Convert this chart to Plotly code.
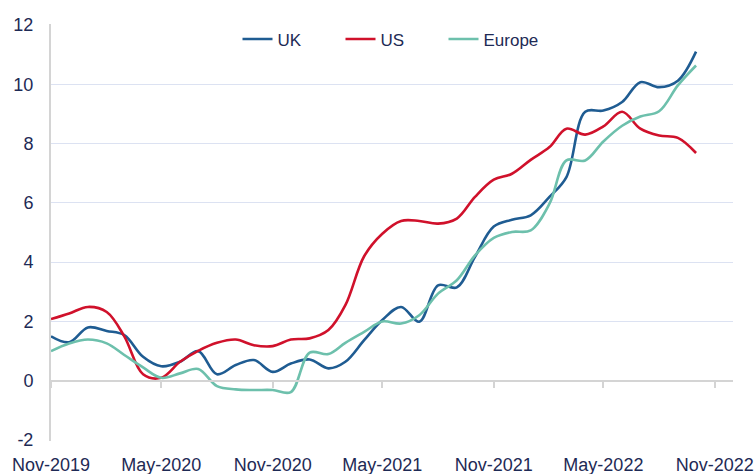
import pandas as pd
import plotly.graph_objects as go

months = pd.date_range("2019-11-01", periods=36, freq="MS")

uk = [1.5, 1.3, 1.8, 1.68, 1.54, 0.81, 0.49, 0.64, 1.0, 0.22,
      0.53, 0.7, 0.3, 0.58, 0.72, 0.42, 0.64, 1.37, 2.05, 2.49,
      1.99, 3.22, 3.15, 4.18, 5.2, 5.43, 5.58, 6.2, 6.87, 9.07,
      9.11, 9.4, 10.07, 9.9, 10.12, 11.1]
us = [2.08, 2.27, 2.49, 2.32, 1.5, 0.22, 0.1, 0.64, 1.01, 1.28,
      1.39, 1.2, 1.17, 1.39, 1.43, 1.71, 2.55, 4.2, 4.96, 5.39,
      5.39, 5.3, 5.47, 6.2, 6.78, 6.98, 7.45, 7.88, 8.5, 8.3,
      8.58, 9.07, 8.5, 8.27, 8.19, 7.68]
europe = [1.0, 1.26, 1.39, 1.26, 0.87, 0.45, 0.1, 0.25, 0.4, -0.18,
          -0.29, -0.31, -0.31, -0.38, 0.95, 0.9, 1.28, 1.65, 2.0, 1.93,
          2.21, 2.94, 3.39, 4.23, 4.82, 5.02, 5.07, 5.97, 7.43, 7.43,
          8.07, 8.6, 8.91, 9.09, 9.96, 10.63]

tick_dates = pd.date_range("2019-11-01", periods=7, freq="6MS")
tick_labels = [d.strftime("%b-%Y") for d in tick_dates]

y_ticks = [-2, 0, 2, 4, 6, 8, 10, 12]
y_labels = [str(v) for v in y_ticks]

series = [("UK", uk, "#1F5C92"), ("US", us, "#D0112B"), ("Europe", europe, "#6DC0AC")]

text_color = "#1E2A55"
font_family = "Liberation Sans, Arial, sans-serif"
x_range = [pd.Timestamp("2019-11-01"), pd.Timestamp("2022-12-01")]
y_range = [-2.03, 12.03]

fig = go.Figure()
for name, vals, color in series:
    fig.add_trace(go.Scatter(
        x=months, y=vals, name=name, mode="lines",
        line=dict(color=color, width=2.6, shape="spline", smoothing=1.0),
    ))

# invisible trace to hold the x axis drawn through y=0
fig.add_trace(go.Scatter(x=[months[0]], y=[0], xaxis="x2", yaxis="y",
                         mode="markers", marker=dict(opacity=0),
                         showlegend=False, hoverinfo="skip"))

fig.update_layout(
    width=756, height=474,
    margin=dict(l=51, r=23, t=24, b=33),
    paper_bgcolor="white", plot_bgcolor="white",
    font=dict(family=font_family, size=18, color=text_color),
    showlegend=True,
    legend=dict(orientation="h", x=0.5, xanchor="center", y=0.963, yanchor="middle",
                font=dict(size=17, color=text_color), bgcolor="rgba(0,0,0,0)",
                entrywidth=58, itemwidth=30),
    xaxis=dict(
        type="date", range=x_range, automargin=False,
        tickvals=list(tick_dates), ticktext=tick_labels,
        showgrid=False, zeroline=False, showline=False, ticks="",
        ticklabelstandoff=11,
        tickfont=dict(size=18, color=text_color),
    ),
    xaxis2=dict(
        type="date", range=x_range, overlaying="x", anchor="free",
        position=(0 - y_range[0]) / (y_range[1] - y_range[0]), side="bottom",
        automargin=False,
        tickvals=list(tick_dates), showticklabels=False,
        showgrid=False, zeroline=False,
        showline=True, linecolor="#D4D4D4", linewidth=2,
        ticks="outside", ticklen=6, tickwidth=2, tickcolor="#D4D4D4",
    ),
    yaxis=dict(
        range=y_range, tickvals=y_ticks, ticktext=y_labels, automargin=False,
        showgrid=True, gridcolor="#DCE2F2", gridwidth=1,
        zeroline=False,
        showline=True, linecolor="#D4D4D4", linewidth=2,
        ticks="", ticklabelstandoff=12,
        tickfont=dict(size=18, color=text_color),
    ),
)

fig.write_html(
    "out.html",
    config={"displayModeBar": False},
    post_script="document.body.style.margin='0';document.body.style.padding='0';",
)
